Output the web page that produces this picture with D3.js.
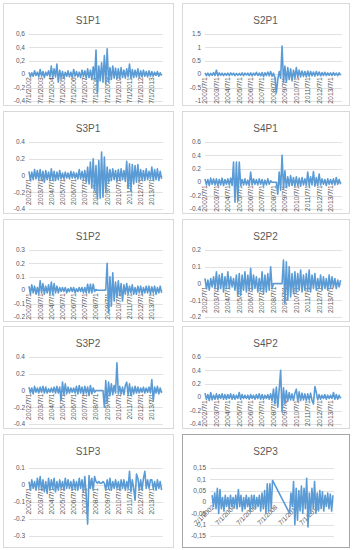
<!DOCTYPE html>
<html><head><meta charset="utf-8">
<script src="https://cdn.jsdelivr.net/npm/d3@7"></script>
<style>body{margin:0;background:#fff}svg{display:block}</style>
</head><body><svg id="c" width="355" height="550"></svg>
<script>
// ---- data (8 points per year starting 1 July 2002) ----
const s1p1 = [0.03,-0.04,0.02,-0.03,0.05,-0.02,0.03,-0.04, 0.07,-0.03,0.04,-0.05,0.03,-0.02,0.05,-0.04, 0.12,-0.05,0.08,-0.04,0.15,-0.12,0.06,-0.05, 0.04,-0.06,0.03,-0.03,0.05,-0.04,0.03,-0.05, 0.07,-0.03,0.04,-0.04,0.03,-0.05,0.06,-0.03, 0.05,-0.06,0.08,-0.05,0.06,-0.08,0.11,-0.07, 0.36,-0.28,0.12,-0.1,0.17,-0.12,0.28,-0.15, 0.38,-0.12,0.1,-0.08,0.12,-0.06,0.09,-0.07, 0.08,-0.07,0.1,-0.05,0.06,-0.06,0.08,-0.04, 0.15,-0.06,0.07,-0.05,0.06,-0.04,0.08,-0.05, 0.05,-0.04,0.06,-0.03,0.04,-0.04,0.05,-0.03, 0.04,-0.03,0.03,-0.02,0.04,-0.03,0.02,-0.02];
const s2p1 = [0.05,-0.05,0.04,-0.06,0.03,-0.04,0.06,-0.05, 0.15,-0.06,0.05,-0.04,0.04,-0.05,0.03,-0.04, 0.04,-0.05,0.05,-0.03,0.04,-0.05,0.03,-0.04, 0.03,-0.04,0.05,-0.05,0.04,-0.03,0.04,-0.05, 0.05,-0.06,0.04,-0.04,0.07,-0.05,0.04,-0.06, 0.06,-0.08,0.05,-0.05,0.08,-0.06,0.1,-0.08, 0.04,-0.12,-0.7,-0.2,0.1,-0.15,1.05,-0.3, 0.3,-0.3,0.25,-0.2,0.2,-0.25,0.15,-0.15, 0.25,-0.12,0.15,-0.1,0.12,-0.08,0.1,-0.1, 0.12,-0.08,0.1,-0.06,0.08,-0.07,0.1,-0.05, 0.08,-0.06,0.06,-0.05,0.07,-0.05,0.05,-0.04, 0.05,-0.05,0.06,-0.04,0.04,-0.05,0.05,-0.04];
const s3p1 = [0.05,-0.06,0.04,-0.05,0.07,-0.04,0.06,-0.05, 0.07,-0.06,0.05,-0.08,0.06,-0.05,0.04,-0.06, 0.08,-0.05,0.05,-0.06,0.04,-0.05,0.06,-0.04, 0.03,-0.04,0.04,-0.03,0.03,-0.04,0.05,-0.03, 0.04,-0.03,0.03,-0.04,0.07,-0.04,0.05,-0.05, 0.06,-0.08,0.1,-0.1,0.16,-0.15,0.2,-0.18, 0.12,-0.28,0.18,-0.27,0.28,-0.26,0.22,-0.2, 0.1,-0.08,0.07,-0.06,0.08,-0.05,0.06,-0.07, 0.07,-0.06,0.08,-0.05,0.06,-0.07,0.17,-0.15, 0.14,-0.18,0.13,-0.1,0.12,-0.08,0.13,-0.07, 0.07,-0.05,0.06,-0.06,0.08,-0.05,0.05,-0.04, 0.1,-0.06,0.07,-0.05,0.08,-0.06,0.05,-0.04];
const s4p1 = [0.05,-0.04,0.04,-0.05,0.06,-0.03,0.05,-0.04, 0.05,-0.05,0.04,-0.04,0.06,-0.05,0.04,-0.03, 0.05,-0.04,0.06,-0.05,0.3,-0.3,0.3,-0.28, 0.3,-0.05,0.04,-0.04,0.05,-0.04,0.03,-0.05, 0.15,-0.04,0.05,-0.03,0.04,-0.04,0.05,-0.03, 0.04,-0.05,0.03,-0.04,0.05,-0.03,0.02,0, 0,0,0,-0.18,0.15,-0.12,0.4,-0.1, 0.17,-0.08,0.08,-0.06,0.1,-0.05,0.07,-0.06, 0.08,-0.05,0.06,-0.06,0.07,-0.04,0.05,-0.05, 0.15,-0.05,0.08,-0.04,0.16,-0.06,0.07,-0.05, 0.12,-0.04,0.05,-0.03,0.04,-0.05,0.05,-0.03, 0.04,-0.03,0.05,-0.04,0.07,-0.03,0.04,-0.03];
const s1p2 = [0.03,-0.03,0.04,-0.02,0.03,-0.03,0.02,-0.03, 0.07,-0.02,0.05,-0.03,0.03,-0.02,0.04,-0.03, 0.06,-0.03,0.05,-0.02,0.03,-0.02,0.02,-0.01, 0.02,-0.01,0.02,-0.02,0.01,-0.01,0.02,-0.01, 0.02,-0.02,0.01,-0.01,0.02,-0.01,0.02,-0.02, 0.02,-0.02,0.045,-0.02,0.045,-0.02,0.045,-0.01, 0.005,0,0,0,0,0,0,0.005, 0.2,-0.17,0.1,-0.12,0.13,-0.08,0.06,-0.05, 0.07,-0.04,0.05,-0.08,0.04,-0.03,0.05,-0.03, 0.03,-0.02,0.04,-0.03,0.02,-0.03,0.03,-0.02, 0.03,-0.03,0.02,-0.02,0.03,-0.02,0.03,-0.03, 0.025,-0.02,0.03,-0.03,0.02,-0.02,0.03,-0.02];
const s2p2 = [0.03,-0.03,0.02,-0.04,0.03,-0.02,0.04,-0.03, 0.07,-0.04,0.05,-0.03,0.06,-0.05,0.04,-0.03, 0.07,-0.03,0.04,-0.02,0.03,-0.04,0.05,-0.07, 0.06,-0.07,0.05,-0.04,0.07,-0.05,0.05,-0.04, 0.09,-0.04,0.05,-0.03,0.04,-0.05,0.03,-0.04, 0.07,-0.06,0.05,-0.05,0.06,-0.04,0.1,-0.03, 0,0,0,0,0,0,0,0.14, -0.12,0.13,-0.1,0.1,-0.08,0.06,-0.06,0.07, -0.05,0.06,-0.04,0.08,-0.05,0.05,-0.04,0.06, -0.04,0.08,-0.05,0.05,-0.03,0.06,-0.04,0.03, -0.03,0.05,-0.04,0.04,-0.03,0.03,-0.04,0.05, -0.03,0.04,-0.02,0.03,-0.03,0.02,-0.02,0.02];
const s3p2 = [0.04,-0.03,0.03,-0.04,0.05,-0.02,0.03,-0.03, 0.04,-0.02,0.05,-0.03,0.04,-0.03,0.02,-0.02, 0.03,-0.02,0.04,-0.03,0.05,-0.03,0.04,-0.12, 0.1,-0.05,0.08,-0.04,0.04,-0.03,0.03,-0.02, 0.03,-0.03,0.05,-0.04,0.06,-0.03,0.04,-0.05, 0.05,-0.03,0.04,-0.06,0.06,-0.04,0.03,-0.02, 0,0,0,0,0,0,-0.2,0.12, -0.15,0.1,-0.06,0.08,-0.05,0.06,-0.03,0.33, -0.04,0.05,-0.04,0.04,-0.05,0.06,0.1,-0.05, 0.08,-0.06,0.04,-0.04,0.05,-0.03,0.04,-0.03, 0.03,-0.02,0.04,-0.03,0.03,-0.02,0.04,-0.03, 0.13,-0.12,0.04,-0.03,0.05,-0.04,0.03,-0.03];
const s4p2 = [0.06,-0.03,0.04,-0.05,0.07,-0.04,0.03,-0.03, 0.05,-0.03,0.04,-0.02,0.05,-0.03,0.04,-0.03, 0.04,-0.02,0.05,-0.03,0.04,-0.03,0.03,-0.02, 0.07,-0.03,0.04,-0.02,0.03,-0.02,0.03,-0.03, 0.04,-0.02,0.03,-0.03,0.04,-0.02,0.05,-0.03, 0.04,-0.03,0.03,-0.02,0.04,-0.03,0.05,-0.05, 0.12,-0.1,0.15,-0.15,0.12,0.4,-0.22,0.14, -0.1,0.1,-0.06,0.07,-0.04,0.05,-0.05,0.06, 0.12,-0.06,0.08,-0.05,0.06,-0.04,0.05,-0.05, 0.05,-0.04,0.06,-0.05,-0.1,0.16,0.07,-0.04, 0.04,-0.03,0.03,-0.02,0.04,-0.03,0.03,-0.02, 0.03,-0.02,0.07,-0.03,0.04,-0.03,0.03,-0.02];
const s1p3 = [0.02,-0.03,0.03,-0.02,0.02,-0.03,0.04,-0.02, 0.05,-0.03,0.03,-0.04,0.02,-0.05,0.04,-0.03, 0.03,-0.02,0.04,-0.04,0.02,-0.03,0.03,-0.02, 0.02,-0.03,0.04,-0.02,0.03,-0.02,0.02,-0.03, 0.03,-0.02,0.02,-0.03,0.04,-0.02,0.03,-0.04, 0.05,-0.06,-0.23,0.055,-0.02,0.04,-0.03,0.05, 0.02,0.01,0.02,0.01,0.01,0.02,0.01,-0.03, 0.03,-0.02,0.04,-0.03,0.02,-0.02,0.03,-0.02, 0.02,-0.03,0.03,-0.02,0.03,-0.03,0.02,-0.02, 0.08,-0.04,0.03,-0.02,-0.09,0.065,0.04,-0.03, 0.03,-0.03,0.04,0.08,-0.02,0.03,-0.02,0.03, 0.03,-0.02,0.02,-0.03,0.03,-0.02,0.02,-0.03];
// S2P3 starts earlier; null = no observation (line joins across the gap)
const s2p3 = [0.03,-0.02,0.04,-0.03,0.06,-0.05,0.055,-0.03, 0.02,-0.04,0.03,-0.02,0.02,-0.03,0.03,-0.02, 0.02,-0.02,0.03,-0.03,0.055,-0.02,0.03,-0.04, 0.02,-0.03,0.03,-0.02,0.02,-0.04,0.03,-0.02, 0.03,-0.03,0.02,-0.02,0.03,-0.04,0.04,-0.03, 0.05,-0.05,0.08,-0.04,0.08,-0.03,0.095,null, null,null,null,null,null,null,null,null, null,null,null,-0.05,0.04,-0.02,0.09,-0.1, 0.06,-0.08,0.05,-0.04,0.07,-0.05,0.06,-0.03, 0.105,-0.11,0.04,-0.05,0.06,-0.03,0.09,-0.05, 0.04,-0.04,0.05,-0.03,0.045,-0.04,0.03,-0.02, 0.04,-0.03,0.035,-0.04,0.03];

const titles = ["S1P1","S2P1","S3P1","S4P1","S1P2","S2P2","S3P2","S4P2","S1P3","S2P3"];
const series = [s1p1,s2p1,s3p1,s4p1,s1p2,s2p2,s3p2,s4p2,s1p3,s2p3];
const startYears = [2002.5,2002.5,2002.5,2002.5,2002.5,2002.5,2002.5,2002.5,2002.5,2002.4];

// y ticks (value, label)
const yTickVals = [
  [0.6,0.4,0.2,0,-0.2,-0.4],
  [1.5,1,0.5,0,-0.5,-1],
  [0.4,0.2,0,-0.2,-0.4],
  [0.6,0.4,0.2,0,-0.2,-0.4],
  [0.3,0.2,0.1,0,-0.1,-0.2],
  [0.2,0.1,0,-0.1,-0.2],
  [0.4,0.2,0,-0.2,-0.4],
  [0.6,0.4,0.2,0,-0.2,-0.4],
  [0.1,0,-0.1,-0.2,-0.3],
  [0.15,0.1,0.05,0,-0.05,-0.1,-0.15]
];
const yTickLabels = [
  ["0,6","0,4","0,2","0","-0,2","-0,4"],
  ["1.5","1","0.5","0","-0.5","-1"],
  ["0.4","0.2","0","-0.2","-0.4"],
  ["0.6","0.4","0.2","0","-0.2","-0.4"],
  ["0.3","0.2","0.1","0","-0.1","-0.2"],
  ["0.2","0.1","0","-0.1","-0.2"],
  ["0.4","0.2","0","-0.2","-0.4"],
  ["0.6","0.4","0.2","0","-0.2","-0.4"],
  ["0.1","0","-0.1","-0.2","-0.3"],
  ["0,15","0,1","0,05","0","-0,05","-0,1","-0,15"]
];
// x category labels (1 July of each year)
const labelYears = [2002,2003,2004,2005,2006,2007,2008,2009,2010,2011,2012,2013];
const xLabelsUS = ["7/1/2002","7/1/2003","7/1/2004","7/1/2005","7/1/2006","7/1/2007","7/1/2008","7/1/2009","7/1/2010","7/1/2011","7/1/2012","7/1/2013"];
const xLabelsISO = ["2002/7/1","2003/7/1","2004/7/1","2005/7/1","2006/7/1","2007/7/1","2008/7/1","2009/7/1","2010/7/1","2011/7/1","2012/7/1","2013/7/1"];
const labelYearsS2P3 = [2002,2004,2006,2008,2010,2012];
const xLabelsS2P3 = ["7/1/2002","7/1/2004","7/1/2006","7/1/2008","7/1/2010","7/1/2012"];

// ---- layout ----
const svg = d3.select("#c");
const colX = [3, 182], colW = [170, 167];
const rowY = [3, 111, 219, 326, 434], rowH = [102, 102, 102, 102, 113];
const font = "'Liberation Sans', Arial, sans-serif";
const txtCol = "#595959";

series.forEach((vals, k) => {
  const row = Math.floor(k / 2), col = k % 2;
  const px = colX[col], py = rowY[row], pw = colW[col], ph = rowH[row];
  const last = k === 9;
  const g = svg.append("g");
  g.append("rect").attr("x", px + 0.5).attr("y", py + 0.5).attr("width", pw).attr("height", ph)
    .attr("fill", "#fff").attr("stroke", last ? "#a6a6a6" : "#d9d9d9").attr("stroke-width", 1);
  g.append("text").attr("x", px + pw / 2).attr("y", py + 21).attr("text-anchor", "middle")
    .attr("font-family", font).attr("font-size", 10).attr("fill", txtCol).text(titles[k]);

  const left = last ? 210 : (col === 0 ? 29 : 205);
  const right = last ? 334 : (col === 0 ? 163 : 342);
  const top = py + (row === 4 ? 34 : 31);
  const bottom = py + (row === 4 ? 102 : 98);
  const tv = yTickVals[k];
  const y = d3.scaleLinear().domain([d3.min(tv), d3.max(tv)]).range([bottom, top]);
  const x = last ? d3.scaleLinear().domain([2002.2, 2014.0]).range([left, right])
                 : d3.scaleLinear().domain([2002.5, 2014.5]).range([left, right]);

  // gridlines + y labels
  tv.forEach((v, i) => {
    g.append("line").attr("x1", left).attr("x2", right).attr("y1", Math.round(y(v)) + 0.5).attr("y2", Math.round(y(v)) + 0.5)
      .attr("stroke", "#d9d9d9").attr("stroke-width", 0.8);
    g.append("text").attr("x", left - 4).attr("y", y(v)).attr("dy", "0.35em").attr("text-anchor", "end")
      .attr("font-family", font).attr("font-size", 6.5).attr("fill", txtCol).text(yTickLabels[k][i]);
  });

  // x labels at the zero line
  const y0 = y(0);
  if (last) {
    labelYearsS2P3.forEach((yr, i) => {
      const lx = x(yr + 0.5);
      g.append("text").attr("transform", `translate(${lx},${y0 + 4}) rotate(-45)`)
        .attr("text-anchor", "end").attr("dy", "0.35em")
        .attr("font-family", font).attr("font-size", 6.5).attr("fill", txtCol).text(xLabelsS2P3[i]);
    });
  } else {
    const labs = k === 0 ? xLabelsUS : xLabelsISO;
    labelYears.forEach((yr, i) => {
      const lx = x(yr + 0.5);
      g.append("text").attr("transform", `translate(${lx},${y0 + 3}) rotate(-90)`)
        .attr("text-anchor", "end").attr("dy", "0.35em")
        .attr("font-family", font).attr("font-size", 6.8).attr("fill", txtCol).text(labs[i]);
    });
  }

  // series line
  const pts = vals.map((v, i) => ({ t: startYears[k] + i / 8, v })).filter(d => d.v !== null);
  const line = d3.line().x(d => x(d.t)).y(d => y(d.v));
  g.append("path").datum(pts).attr("d", line).attr("fill", "none")
    .attr("stroke", "#5b9bd5").attr("stroke-width", 1.6).attr("stroke-linejoin", "round");
});
</script></body></html>
